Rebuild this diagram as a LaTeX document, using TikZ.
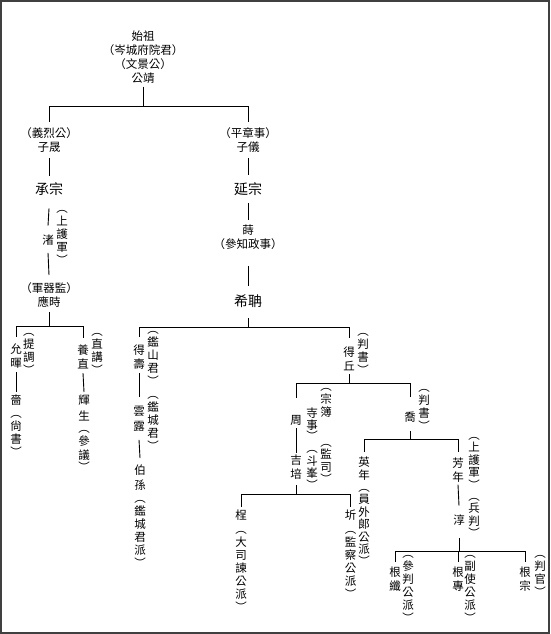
\documentclass[tikz,border=0pt]{standalone}
\usepackage{fontspec}
\newfontfamily\cjk{Noto Sans CJK TC}
\begin{document}
\begin{tikzpicture}[x=1pt,y=-1pt,
  every node/.style={inner sep=0pt,outer sep=0pt},
  hz/.style={align=center,anchor=north,font=\cjk\fontsize{11.5}{14}\selectfont,execute at begin node=\vphantom{國}},
  vc/.style={align=center,anchor=north,font=\cjk\fontsize{11.5}{13}\selectfont,execute at begin node=\vphantom{國}},
  big/.style={anchor=center,font=\cjk\fontsize{14}{16}\selectfont},
  one/.style={anchor=center,font=\cjk\fontsize{11.5}{14}\selectfont},
  ln/.style={line width=0.9pt,black}]
\useasboundingbox (0,0) rectangle (550,634);
\draw[line width=2pt,black!75] (1,1) rectangle (549,633);
% bus levels
\coordinate (b1) at (0,106);
\coordinate (b2) at (0,326);
\coordinate (b3) at (0,327);
\coordinate (b4) at (0,383);
\coordinate (b5) at (0,494);
\coordinate (b6) at (0,439);
\coordinate (b7) at (0,551);
% top
\node[hz] (top) at (143,31) {始祖\\（岑城府院君）\\（文景公）\\公靖};
\node[hz] (zs) at (49,128) {（義烈公）\\子晟};
\node[hz] (zy) at (248,128) {（平章事）\\子儀};
\node[big] (cz) at (49,189) {承宗};
\node[big] (yz) at (248,189) {延宗};
\node[one] (zhu) at (48,240) {渚};
\node[vc] (shj) at (62,210) {︵\\上\\護\\軍\\︶};
\node[hz] (ys) at (49,283) {（軍器監）\\應時};
\node[hz] (shi) at (248,225) {蒔\\（參知政事）};
\node[big] (xd) at (248,301) {希聃};
% left lower
\node[hz] (yh) at (16,344) {允\\暉};
\node[vc] (tj) at (29,333) {︵\\提\\調\\︶};
\node[vc] (se) at (16,395) {嗇\\︵\\尙\\書\\︶};
\node[hz] (yzh) at (83,345) {養\\直};
\node[vc] (zj) at (97,333) {︵\\直\\講\\︶};
\node[vc] (hs) at (84,395) {輝\\[3pt]生\\[-1pt]︵\\參\\[1pt]議\\[-1pt]︶};
% 得壽 line
\node[hz] (dsh) at (139,345) {得\\壽};
\node[vc] (jsj) at (153,331) {︵\\鑑\\山\\君\\︶\\︵\\鑑\\城\\君\\︶};
\node[hz] (yl) at (139,406) {雲\\[1pt]露};
\node[vc] (bs) at (140,465) {伯\\[2pt]孫\\︵\\鑑\\城\\君\\派\\︶};
% 得丘 line
\node[hz] (dq) at (349,347) {得\\丘};
\node[vc] (pa) at (363,333) {︵\\判\\書\\︶};
\node[one] (zhou) at (296,420) {周};
\node[vc] (zb) at (326,388) {︵\\宗\\簿};
\node[vc] (ssh) at (312,408) {寺\\[-1pt]事\\[-2pt]︶\\[-1pt]︵\\斗\\[-1pt]峯\\[-1pt]︶};
\node[hz] (jp) at (296,455) {吉\\培};
\node[vc] (js) at (326,444) {︵\\[-1pt]監\\司\\[-1pt]︶};
\node[vc] (ting) at (241,510) {桯\\[1pt]︵\\大\\司\\諫\\公\\派\\︶};
\node[vc] (qi) at (350.5,510) {圻\\[1pt]︵\\監\\察\\公\\派\\︶};
\node[one] (qiao) at (410,417) {喬};
\node[vc] (pb) at (424,389) {︵\\判\\書\\︶};
\node[vc] (yn) at (364,457) {英\\年\\[-1pt]︵\\[-1pt]員\\[-0.5pt]外\\[-0.5pt]郞\\[-0.5pt]公\\[-0.5pt]派\\[-1pt]︶};
\node[hz] (fn) at (458,458) {芳\\年};
\node[vc] (shj2) at (474,437) {︵\\[-0.5pt]上\\[-0.5pt]護\\[-0.5pt]軍\\[-0.5pt]︶\\[-2pt]︵\\[-0.5pt]兵\\[-0.5pt]判\\[-0.5pt]︶};
\node[one] (chun) at (459,520) {淳};
\node[hz] (gx) at (395,567) {根\\纖};
\node[vc] (cp) at (408,555) {︵\\參\\判\\公\\派\\︶};
\node[hz] (gz) at (458,567) {根\\專};
\node[vc] (fs) at (470,555) {︵\\副\\使\\公\\派\\︶};
\node[hz] (gzg) at (525,567) {根\\宗};
\node[vc] (pg) at (540,555) {︵\\判\\官\\︶};
% connectors
\draw[ln] ([yshift=-3pt]top.south) -- (top.south |- b1);
\draw[ln] (zs.north |- b1) -- (zy.north |- b1);
\draw[ln] (zs.north |- b1) -- ([yshift=6pt]zs.north);
\draw[ln] (zy.north |- b1) -- ([yshift=6pt]zy.north);
\draw[ln] ([yshift=-5pt]zs.south) -- ([yshift=7pt]cz.north);
\draw[ln] ([yshift=-5pt]zy.south) -- ([yshift=7pt]yz.north);
\draw[ln] ([yshift=-13pt]cz.south) -- ([yshift=9pt]zhu.north);
\draw[ln] ([yshift=-7.5pt]zhu.south) -- ([yshift=8pt]ys.north);
\draw[ln] ([yshift=-4.5pt]ys.south) -- (ys.south |- b2);
\draw[ln] (yh.north |- b2) -- (yzh.north |- b2);
\draw[ln] (yh.north |- b2) -- ([yshift=7pt]yh.north);
\draw[ln] (yzh.north |- b2) -- ([yshift=7pt]yzh.north);
\draw[ln] ([yshift=-3.5pt]yh.south) -- ([yshift=3pt]se.north);
\draw[ln] ([yshift=-3.5pt]yzh.south) -- ([yshift=3pt]hs.north);
\draw[ln] ([yshift=-7.5pt]yz.south) -- ([yshift=5pt]shi.north);
\draw[ln] ([yshift=-16pt]shi.south) -- ([yshift=9pt]xd.north);
\draw[ln] ([yshift=-11pt]xd.south) -- (xd.south |- b3);
\draw[ln] (dsh.north |- b3) -- (dq.north |- b3);
\draw[ln] (dsh.north |- b3) -- ([yshift=8pt]dsh.north);
\draw[ln] (dq.north |- b3) -- ([yshift=9pt]dq.north);
\draw[ln] ([yshift=-3.5pt]dsh.south) -- ([yshift=9pt]yl.north);
\draw[ln] ([yshift=-8.5pt]yl.south) -- ([yshift=7pt]bs.north);
\draw[ln] ([yshift=-2.5pt]dq.south) -- (dq.south |- b4);
\draw[ln] (zhou.north |- b4) -- (qiao.north |- b4);
\draw[ln] (zhou.north |- b4) -- ([yshift=17pt]zhou.north);
\draw[ln] (qiao.north |- b4) -- ([yshift=15pt]qiao.north);
\draw[ln] ([yshift=-3pt]zhou.south) -- ([yshift=2pt]jp.north);
\draw[ln] ([yshift=-5.5pt]jp.south) -- (jp.south |- b5);
\draw[ln] (ting.north |- b5) -- (qi.north |- b5);
\draw[ln] (ting.north |- b5) -- ([yshift=3pt]ting.north);
\draw[ln] (qi.north |- b5) -- ([yshift=3pt]qi.north);
\draw[ln] ([yshift=-9pt]qiao.south) -- (qiao.south |- b6);
\draw[ln] (yn.north |- b6) -- (fn.north |- b6);
\draw[ln] (yn.north |- b6) -- ([yshift=5pt]yn.north);
\draw[ln] (fn.north |- b6) -- ([yshift=6pt]fn.north);
\draw[ln] ([yshift=-2pt]fn.south) -- ([yshift=9pt]chun.north);
\draw[ln] ([yshift=-12.5pt]chun.south) -- (chun.south |- b7);
\draw[ln] (gx.north |- b7) -- (gzg.north |- b7);
\draw[ln] (gx.north |- b7) -- ([yshift=5pt]gx.north);
\draw[ln] (gz.north |- b7) -- ([yshift=5pt]gz.north);
\draw[ln] (gzg.north |- b7) -- ([yshift=5pt]gzg.north);
\end{tikzpicture}
\end{document}
